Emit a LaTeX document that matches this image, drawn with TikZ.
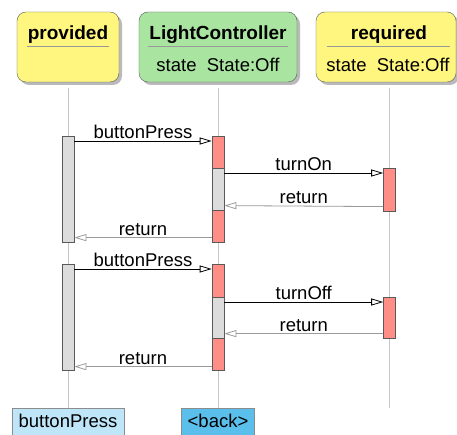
\documentclass[tikz,border=0pt]{standalone}
\usepackage{fontspec}
\setmainfont{Liberation Sans}
\usetikzlibrary{shadows,arrows.meta}

\definecolor{headyellow}{HTML}{FFF67F}
\definecolor{headgreen}{HTML}{A9E4A1}
\definecolor{actred}{HTML}{FF8E86}
\definecolor{actgray}{HTML}{DCDCDC}
\definecolor{lifegray}{HTML}{C6C6C6}
\definecolor{retgray}{HTML}{9A9A9A}
\definecolor{evlight}{HTML}{BEE6F8}
\definecolor{evdark}{HTML}{5ABFEB}

\tikzset{
	head/.style={draw=black!65, rounded corners=9, inner sep=0,
		drop shadow={shadow xshift=3pt, shadow yshift=-3pt, fill=black!45, opacity=0.6}},
	headtitle/.style={font=\fontsize{19}{22}\selectfont\bfseries, anchor=base, inner sep=0},
	headattr/.style={font=\fontsize{18.5}{22}\selectfont, anchor=base, inner sep=0},
	uline/.style={draw=black!40, line width=0.6pt},
	life/.style={draw=lifegray, line width=1pt},
	act/.style={draw=black!65, minimum width=12, inner sep=0, anchor=north, line width=0.6pt},
	call/.style={draw=black, line width=0.8pt, -{Triangle[open,length=12pt,width=7pt]}},
	ret/.style={draw=retgray, line width=0.8pt, -{Triangle[open,length=12pt,width=7pt]}},
	msg/.style={font=\fontsize{18.5}{22}\selectfont, midway, anchor=base, yshift=2.5pt, inner sep=0},
	event/.style={draw=black!45, minimum height=38, inner sep=0, anchor=north, font=\fontsize{18.5}{22}\selectfont, text depth=12pt}
}

\begin{document}
\begin{tikzpicture}[x=1pt,y=-1pt]
		\useasboundingbox (0,0) rectangle (457,435);
		% lifelines
		\coordinate (provend) at (68,408);
		\coordinate (ctrlend) at (218,408);
		\coordinate (reqend) at (389,408);
		\draw[life] (68,88) -- (provend);
		\draw[life] (218,88) -- (ctrlend);
		\draw[life] (389,88) -- (reqend);
		% headers
		\node[head, fill=headyellow, minimum width=102, minimum height=70] (prov) at (68,47) {};
		\node[head, fill=headgreen, minimum width=158, minimum height=70] (ctrl) at (218,47) {};
		\node[head, fill=headyellow, minimum width=140, minimum height=70] (req) at (386,47) {};
		\node[headtitle] (provt) at (68,40) {provided};
		\node[headtitle] (ctrlt) at (218,40) {LightController};
		\node[headtitle] (reqt) at (389,40) {required};
		\draw[uline] ([xshift=10pt,yshift=1pt]prov.west) -- ([xshift=-10pt,yshift=1pt]prov.east);
		\draw[uline] ([xshift=9pt,yshift=1pt]ctrl.west) -- ([xshift=-9pt,yshift=1pt]ctrl.east);
		\draw[uline] ([xshift=11pt,yshift=1pt]req.west) -- ([xshift=-6pt,yshift=1pt]req.east);
		\node[headattr] (ctrla) at (218,72) {state\ \ State:Off};
		\node[headattr] (reqa) at (388,72) {state\ \ State:Off};
		% activations, first press
		\node[act, fill=actgray, minimum height=106] (pa1) at (68,136) {};
		\node[act, fill=actred, minimum height=32] (ca1) at (218,136) {};
		\node[act, fill=actgray, minimum height=42] (cb1) at (218,168) {};
		\node[act, fill=actred, minimum height=32] (cc1) at (218,210) {};
		\node[act, fill=actred, minimum height=43] (ra1) at (389.5,168) {};
		% activations, second press
		\node[act, fill=actgray, minimum height=106] (pa2) at (68,264) {};
		\node[act, fill=actred, minimum height=33] (ca2) at (218,264) {};
		\node[act, fill=actgray, minimum height=41] (cb2) at (218,297) {};
		\node[act, fill=actred, minimum height=32] (cc2) at (218,338) {};
		\node[act, fill=actred, minimum height=41] (ra2) at (389.5,297) {};
		% messages
		\draw[call] ([yshift=-5pt]pa1.north east) -- ([yshift=-5pt]ca1.north west) node[msg] {buttonPress};
		\draw[call] ([yshift=-5pt]cb1.north east) -- ([yshift=-5pt]ra1.north west) node[msg] {turnOn};
		\draw[ret] ([yshift=5pt]ra1.south west) -- ([yshift=5pt]cb1.south east) node[msg] {return};
		\draw[ret] ([yshift=5pt]cc1.south west) -- ([yshift=5pt]pa1.south east) node[msg] {return};
		\draw[call] ([yshift=-5pt]pa2.north east) -- ([yshift=-5pt]ca2.north west) node[msg] {buttonPress};
		\draw[call] ([yshift=-5pt]cb2.north east) -- ([yshift=-5pt]ra2.north west) node[msg] {turnOff};
		\draw[ret] ([yshift=5pt]ra2.south west) -- ([yshift=5pt]cb2.south east) node[msg] {return};
		\draw[ret] ([yshift=4pt]cc2.south west) -- ([yshift=4pt]pa2.south east) node[msg] {return};
		% events
		\node[event, fill=evlight, minimum width=112] (ev1) at (provend) {buttonPress};
		\node[event, fill=evdark, minimum width=73] (ev2) at (ctrlend) {<back>};
\end{tikzpicture}
\end{document}
